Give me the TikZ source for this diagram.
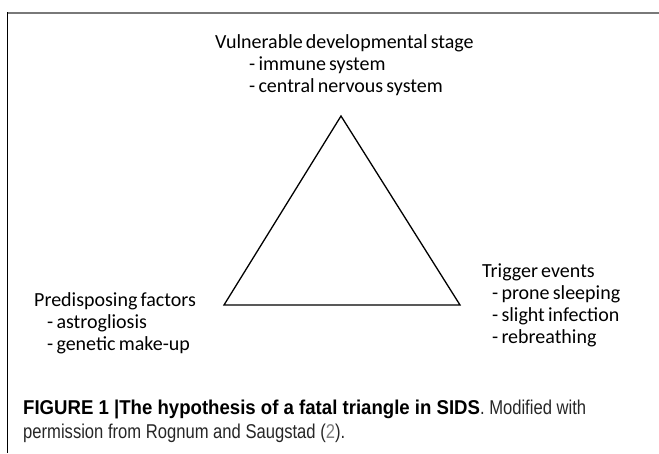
\documentclass[tikz,border=0pt]{standalone}
\usepackage{fontspec}
\setmainfont{Carlito}
\newfontfamily\capfont[FakeStretch=0.83]{Liberation Sans}
\newfontfamily\capbold[FakeStretch=0.93]{Liberation Sans}
\newcommand{\tightspace}{\spaceskip=0.16em plus 0.05em\relax}
\begin{document}
\begin{tikzpicture}[x=1pt,y=-1pt,
  lbl/.style={anchor=base west,inner sep=0pt,font=\fontsize{20}{22}\selectfont\tightspace},
  captext/.style={anchor=base west,inner sep=0pt,text=black!85,font=\capfont\fontsize{20}{24}\selectfont},
  edge/.style={line width=1.3pt,line join=miter}]
\useasboundingbox (0,0) rectangle (659,453);
% frame
\draw[gray!95!black,line width=2pt] (7,13) -- (659,13);
\draw[black,line width=1pt] (7,12) -- (7,453);
% triangle
\coordinate (apex) at (341,116);
\coordinate (bl) at (224,305);
\coordinate (br) at (460,305);
\draw[edge] (apex) -- (bl) -- (br) -- cycle;
% top corner
\node[lbl] (t0) at (215,48) {Vulnerable developmental stage};
\node[lbl] (t1) at (249,70) {- immune system};
\node[lbl] (t2) at (249,92) {- central nervous system};
% left corner
\node[lbl] (l0) at (34,306) {Predisposing factors};
\node[lbl] (l1) at (47,328) {- astrogliosis};
\node[lbl] (l2) at (47,350) {- genetic make-up};
% right corner
\node[lbl] (r0) at (482,277) {Trigger events};
\node[lbl] (r1) at (492,299) {- prone sleeping};
\node[lbl] (r2) at (492,321) {- slight infection};
\node[lbl] (r3) at (492,343) {- rebreathing};
% caption
\node[captext] (c1) at (23,414) {{\capbold\bfseries\color{black}FIGURE 1 |The hypothesis of a fatal triangle in SIDS}. Modified with};
\node[captext] (c2) at (23,438) {permission from Rognum and Saugstad ({\color{gray}2}).};
\end{tikzpicture}
\end{document}
